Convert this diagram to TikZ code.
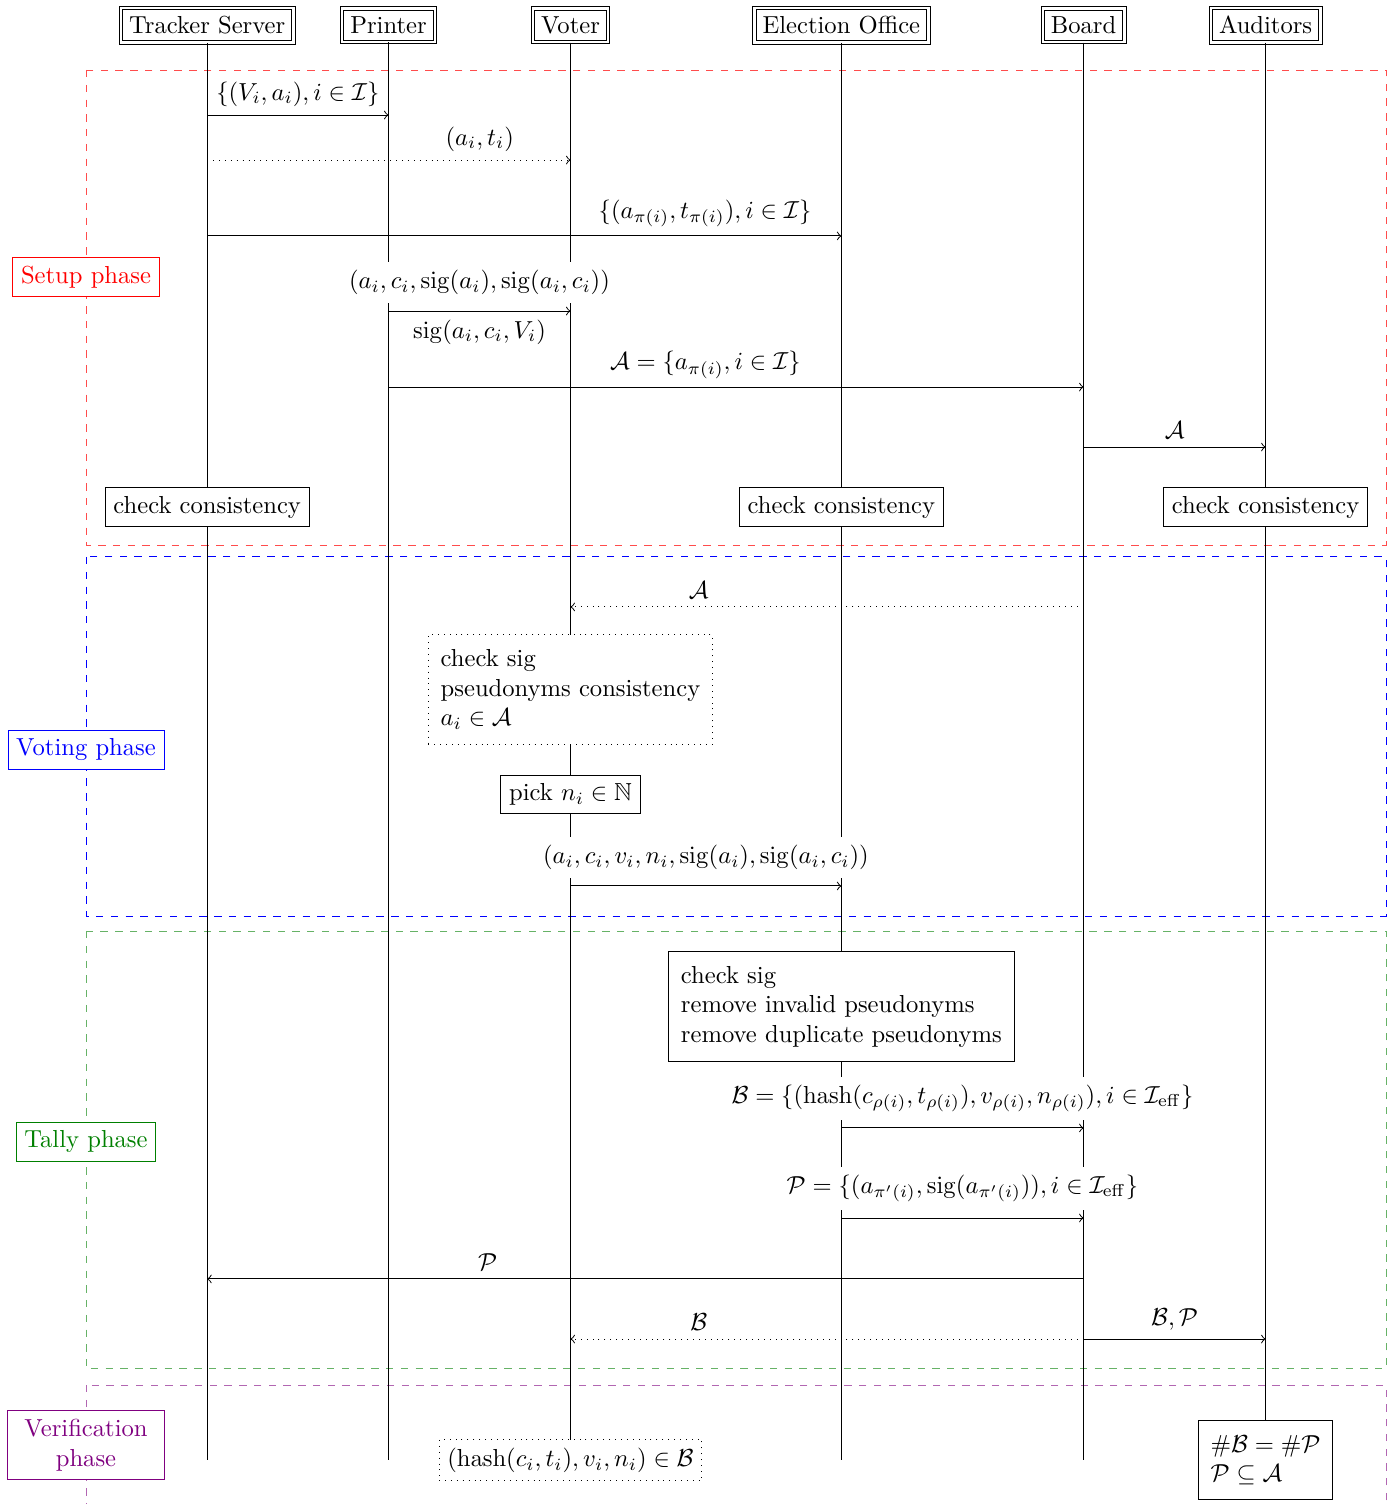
\documentclass[tikz,border=0pt]{standalone}
\usepackage{amsmath}
\usepackage{amssymb}
\usepackage{tikz}
\usetikzlibrary{positioning}

\begin{document}
\begin{tikzpicture}[
  actor/.style={draw, double, double distance=1pt},
  action/.style={draw, fill=white},
  bigaction/.style={draw, fill=white, align=left, inner xsep=5pt, inner ysep=6pt},
  phase/.style={draw=#1, text=#1, fill=white, align=center},
  lbl/.style={fill=white}
]

  \useasboundingbox (0,0) rectangle (19.9,-21.486);

  \draw[dashed, red!70] (1.229,-1) rectangle (19.8,-7.786);
  \draw[dashed, blue] (1.229,-7.957) rectangle (19.8,-13.086);
  \draw[dashed, green!50!black!60] (1.229,-13.3) rectangle (19.8,-19.557);
  \draw[dashed, violet!60] (1.229,-19.786) rectangle (19.8,-22.5);

  \node[actor] (ts) at (2.96,-0.36) {Tracker Server};
  \node[actor, right of=ts, xshift=1.59cm] (pr) {Printer};
  \node[actor, right of=pr, xshift=1.6cm] (vo) {Voter};
  \node[actor, right of=vo, xshift=2.87cm] (eo) {Election Office};
  \node[actor, right of=eo, xshift=2.46cm] (bo) {Board};
  \node[actor, right of=bo, xshift=1.6cm] (au) {Auditors};

  \coordinate (bottom) at (0,-20.857);
  \foreach \n in {ts, pr, vo, eo, bo, au}
    \draw (\n) -- (\n |- bottom);

  \node[phase=red] (setup) at (1.229,-3.957) {Setup phase};
  \node[phase=blue] (voting) at (1.229,-10.714) {Voting phase};
  \node[phase=green!50!black] (tally) at (1.229,-16.314) {Tally phase};
  \node[phase=violet, inner xsep=7pt] (verif) at (1.229,-20.643) {Verification\\phase};

  \coordinate (r1) at (0,-1.643);
  \coordinate (r2) at (0,-2.286);
  \coordinate (r3) at (0,-3.371);
  \coordinate (r4) at (0,-4.443);
  \coordinate (r5) at (0,-5.529);
  \coordinate (r6) at (0,-6.386);
  \coordinate (r7) at (0,-8.671);
  \coordinate (r8) at (0,-12.657);
  \coordinate (r9) at (0,-16.114);
  \coordinate (r10) at (0,-17.4);
  \coordinate (r11) at (0,-18.271);
  \coordinate (r12) at (0,-19.129);

  \draw[->] (ts |- r1) to node[above] {$\{(V_i, a_i), i \in \mathcal{I}\}$} (pr |- r1);
  \draw[->, dotted] (ts |- r2) to node[above, pos=0.75] {$(a_i, t_i)$} (vo |- r2);
  \draw[->] (ts |- r3) to node[above, pos=0.785] {$\{(a_{\pi(i)}, t_{\pi(i)}), i \in \mathcal{I}\}$} (eo |- r3);
  \draw[->] (pr |- r4) to node[above, lbl, yshift=3pt] {$(a_i, c_i, \mathrm{sig}(a_i), \mathrm{sig}(a_i, c_i))$}
    node[below] {$\mathrm{sig}(a_i, c_i, V_i)$} (vo |- r4);
  \draw[->] (pr |- r5) to node[above, pos=0.456] {$\mathcal{A} = \{a_{\pi(i)}, i \in \mathcal{I}\}$} (bo |- r5);
  \draw[->] (bo |- r6) to node[above] {$\mathcal{A}$} (au |- r6);

  \node[action, below of=ts, yshift=-5.883cm] (tscheck) {check consistency};
  \node[action, below of=eo, yshift=-5.883cm] (eocheck) {check consistency};
  \node[action, below of=au, yshift=-5.883cm] (aucheck) {check consistency};

  \draw[->, dotted] (bo |- r7) to node[above, pos=0.75] {$\mathcal{A}$} (vo |- r7);
  \node[bigaction, dotted, below of=vo, yshift=-8.49cm] (vocheck) {check sig\\pseudonyms consistency\\$a_i \in \mathcal{A}$};
  \node[action, below of=vo, yshift=-9.99cm] (pick) {pick $n_i \in \mathbb{N}$};
  \draw[->] (vo |- r8) to node[above, lbl, yshift=3pt] {$(a_i, c_i, v_i, n_i, \mathrm{sig}(a_i), \mathrm{sig}(a_i, c_i))$} (eo |- r8);

  \node[bigaction, below of=eo, yshift=-13.02cm] (eotally) {check sig\\remove invalid pseudonyms\\remove duplicate pseudonyms};
  \draw[->] (eo |- r9) to node[above, lbl, yshift=3pt] {$\mathcal{B} = \{(\mathrm{hash}(c_{\rho(i)}, t_{\rho(i)}), v_{\rho(i)}, n_{\rho(i)}), i \in \mathcal{I}_{\mathrm{eff}}\}$} (bo |- r9);
  \draw[->] (eo |- r10) to node[above, lbl, yshift=3pt] {$\mathcal{P} = \{(a_{\pi'(i)}, \mathrm{sig}(a_{\pi'(i)})), i \in \mathcal{I}_{\mathrm{eff}}\}$} (bo |- r10);
  \draw[->] (bo |- r11) to node[above, pos=0.68] {$\mathcal{P}$} (ts |- r11);
  \draw[->, dotted] (bo |- r12) to node[above, pos=0.75] {$\mathcal{B}$} (vo |- r12);
  \draw[->] (bo |- r12) to node[above] {$\mathcal{B}, \mathcal{P}$} (au |- r12);

  \node[action, dotted, below of=vo, yshift=-19.5cm] (voverif) {$(\mathrm{hash}(c_i, t_i), v_i, n_i) \in \mathcal{B}$};
  \node[bigaction, below of=au, yshift=-19.5cm] (auverif) {$\#\mathcal{B} = \#\mathcal{P}$\\$\mathcal{P} \subseteq \mathcal{A}$};

\end{tikzpicture}
\end{document}
